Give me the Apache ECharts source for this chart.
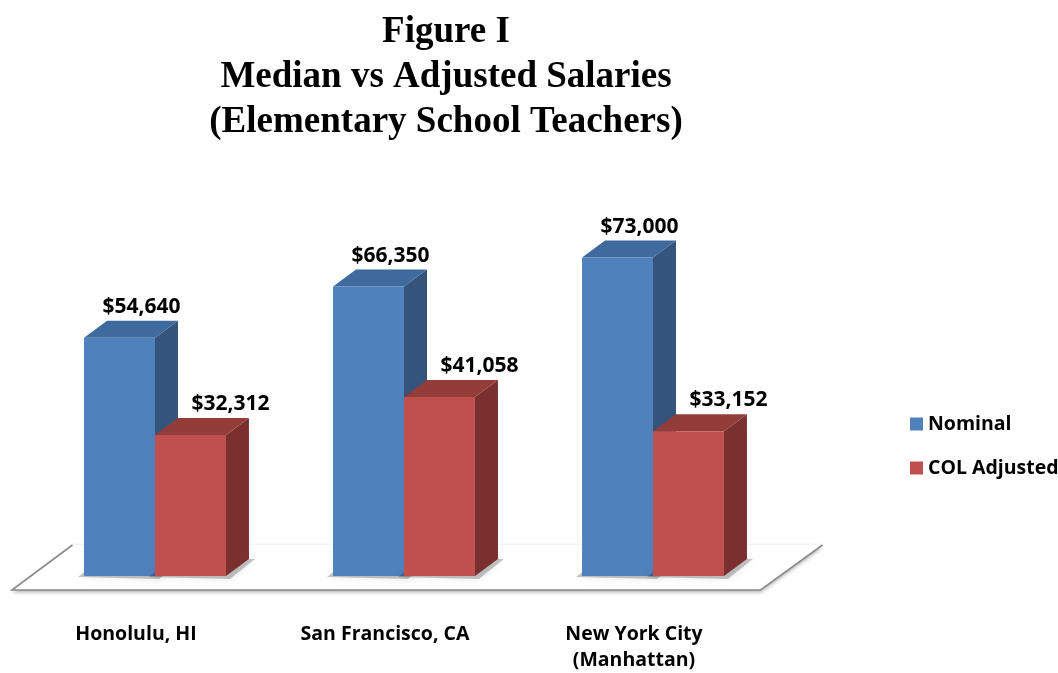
<!DOCTYPE html>
<html><head><meta charset="utf-8">
<script src="https://cdn.jsdelivr.net/npm/echarts@6/dist/echarts.min.js"></script>
<style>html,body{margin:0;padding:0;background:#fff}#c{width:1058px;height:673px}</style>
</head><body><div id="c"></div>
<script>
const categories = ['Honolulu, HI', 'San Francisco, CA', 'New York City\n(Manhattan)'];
const nominal = [54640, 66350, 73000];
const colAdjusted = [32312, 41058, 33152];
const seriesNames = ['Nominal', 'COL Adjusted'];
const titleLines = ['Figure I', 'Median vs Adjusted Salaries', '(Elementary School Teachers)'];

const palettes = [
  {front: '#4F81BD', top: '#3F6A9D', side: '#34547C', labelDx: 22},
  {front: '#C0504D', top: '#933D3A', side: '#7A302E', labelDx: 40}
];
const DX = 23, DY = 17;
const LABEL_FONT = 'bold 21px "Open Sans"';

function fmt(v){ return '$' + v.toLocaleString('en-US'); }

function barRenderer(si){
  const p = palettes[si];
  return function(params, api){
    const ci = api.value(0), v = api.value(1);
    const top = api.coord([ci, v]);
    const base = api.coord([ci, 0]);
    const band = api.size([1, 0])[0];
    const w = band * 0.285;
    const x0 = si === 0 ? top[0] - w : top[0];
    const x1 = x0 + w;
    const yT = top[1], yB = base[1];
    return {
      type: 'group',
      children: [
        {type: 'polygon', shape: {points: [[x0-6, yB+1],[x0+DX-6, yB-DY],[x1+DX+6, yB-DY],[x1+4, yB+3]]},
         style: {fill: 'rgba(0,0,0,0.22)', shadowBlur: 8, shadowColor: 'rgba(0,0,0,0.4)'}, silent: true},
        {type: 'polygon', shape: {points: [[x1, yT],[x1+DX, yT-DY],[x1+DX, yB-DY],[x1, yB]]}, style: {fill: p.side}},
        {type: 'polygon', shape: {points: [[x0, yT],[x0+DX, yT-DY],[x1+DX, yT-DY],[x1, yT]]}, style: {fill: p.top}},
        {type: 'rect', shape: {x: x0, y: yT, width: w, height: yB - yT}, style: {fill: p.front}},
        {type: 'text', x: (x0+x1)/2 + p.labelDx, y: yT - 31,
         style: {text: fmt(v), fill: '#000', font: LABEL_FONT, textAlign: 'center', textVerticalAlign: 'middle'}}
      ]
    };
  };
}

function floorRenderer(params, api){
  const a = api.coord([0, 0]);
  const c = api.coord([categories.length - 1, 0]);
  const band = api.size([1, 0])[0];
  const L = a[0] - band/2, R = c[0] + band/2, y = a[1];
  const pts = [[L-18.5, y+14],[L+42, y-31],[R+45, y-31],[R-17, y+14]];
  return {
    type: 'group',
    children: [
      {type: 'polygon', shape: {points: pts},
       style: {fill: '#fff', shadowBlur: 4, shadowOffsetY: 2, shadowColor: 'rgba(0,0,0,0.35)'}},
      {type: 'polyline', shape: {points: [[L+42, y-31],[L-18.5, y+14],[R-17, y+14],[R+45, y-31]]},
       style: {stroke: '#8C8C8C', lineWidth: 1.6, fill: null}}
    ]
  };
}

const chart = echarts.init(document.getElementById('c'));
chart.setOption({
  animation: false,
  backgroundColor: '#fff',
  title: {
    text: titleLines.join('\n'),
    left: 441, top: 5, textAlign: 'center',
    textStyle: {fontFamily: 'Liberation Serif', fontWeight: 'bold', fontSize: 37, lineHeight: 45, color: '#000'}
  },
  legend: {
    data: seriesNames, orient: 'vertical', left: 905, top: 409,
    itemWidth: 13, itemHeight: 13, itemGap: 24, icon: 'rect',
    textStyle: {fontFamily: 'Open Sans', fontWeight: 'bold', fontSize: 19.5, color: '#000'}
  },
  grid: {left: 30.5, right: 280.5, top: 227, bottom: 95},
  xAxis: {
    type: 'category', data: categories,
    axisLine: {show: false}, axisTick: {show: false}, splitLine: {show: false},
    axisLabel: {fontFamily: 'Open Sans', fontWeight: 'bold', fontSize: 19.5, color: '#000', margin: 45, lineHeight: 26, padding: [0, 38, 0, 0]}
  },
  yAxis: {type: 'value', min: 0, max: 80000, show: false, splitLine: {show: false}},
  series: [
    {type: 'custom', name: 'floor', renderItem: floorRenderer, data: [[0, 0]], silent: true, z: 1},
    {type: 'custom', name: seriesNames[0], renderItem: barRenderer(0), itemStyle: {color: palettes[0].front},
     encode: {x: 0, y: 1}, data: nominal.map((v, i) => [i, v]), z: 2},
    {type: 'custom', name: seriesNames[1], renderItem: barRenderer(1), itemStyle: {color: palettes[1].front},
     encode: {x: 0, y: 1}, data: colAdjusted.map((v, i) => [i, v]), z: 3}
  ]
});
</script></body></html>
